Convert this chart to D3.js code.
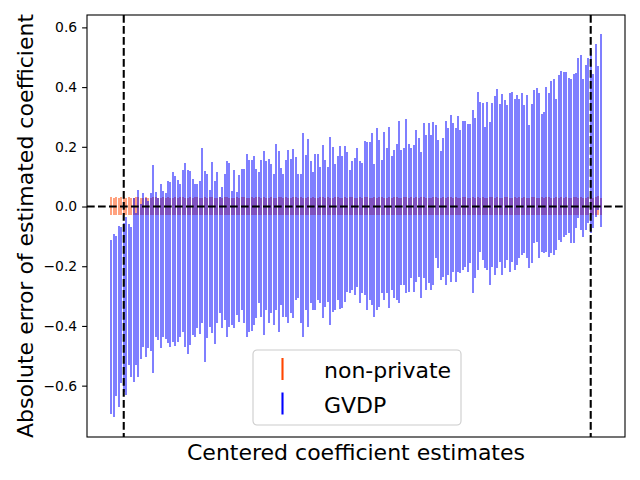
<!DOCTYPE html>
<html>
<head>
<meta charset="utf-8">
<script src="https://cdn.jsdelivr.net/npm/d3@7"></script>
<style>
  body { margin: 0; background: #fff; }
  svg text { font-family: "DejaVu Sans", sans-serif; fill: #000; }
</style>
</head>
<body>
<svg id="chart" width="640" height="480"></svg>
<script>
// GVDP interval ends, one per coefficient (sorted by centered estimate)
var gvdpHi = [
  -0.112,-0.092,-0.100,-0.065,-0.067,-0.055,-0.034,-0.060,-0.067,0.027,
  -0.022,0.055,0.010,0.046,0.028,0.020,0.046,0.139,0.050,0.030,
  0.075,0.053,0.046,0.085,0.083,0.117,0.102,0.089,0.075,0.122,
  0.146,0.122,0.119,0.092,0.075,0.075,0.085,0.196,0.120,0.109,
  0.055,0.150,0.085,0.117,0.031,0.065,0.109,0.152,0.147,0.053,
  0.122,0.050,0.107,0.126,0.126,0.176,0.156,0.156,0.169,0.126,
  0.116,0.156,0.186,0.152,0.159,0.142,0.109,0.209,0.186,0.129,
  0.109,0.156,0.189,0.159,0.193,0.166,0.109,0.109,0.246,0.173,
  0.226,0.152,0.116,0.176,0.176,0.132,0.206,0.156,0.132,0.233,
  0.199,0.142,0.169,0.203,0.169,0.203,0.183,0.122,0.152,0.162,
  0.196,0.152,0.146,0.219,0.216,0.216,0.246,0.142,0.263,0.223,
  0.156,0.250,0.196,0.266,0.169,0.189,0.209,0.286,0.189,0.196,
  0.293,0.209,0.196,0.206,0.256,0.229,0.183,0.280,0.240,0.280,
  0.240,0.283,0.273,0.223,0.186,0.229,0.286,0.263,0.307,0.280,
  0.263,0.303,0.256,0.286,0.286,0.276,0.276,0.323,0.295,0.382,
  0.349,0.346,0.267,0.351,0.282,0.346,0.370,0.394,0.342,0.377,
  0.357,0.340,0.379,0.382,0.360,0.374,0.360,0.379,0.340,0.374,
  0.273,0.343,0.390,0.398,0.379,0.309,0.315,0.400,0.379,0.420,
  0.427,0.360,0.441,0.454,0.449,0.449,0.432,0.427,0.443,0.446,
  0.496,0.508,0.427,0.474,0.496,0.524,0.443,0.544,0.469,0.577
];
var gvdpLo = [
  -0.695,-0.704,-0.635,-0.671,-0.592,-0.620,-0.632,-0.531,-0.570,-0.587,
  -0.531,-0.570,-0.511,-0.470,-0.503,-0.475,-0.483,-0.559,-0.436,-0.447,
  -0.475,-0.436,-0.444,-0.458,-0.470,-0.453,-0.467,-0.453,-0.436,-0.419,
  -0.472,-0.494,-0.464,-0.430,-0.436,-0.408,-0.427,-0.391,-0.520,-0.442,
  -0.403,-0.422,-0.461,-0.391,-0.358,-0.408,-0.380,-0.438,-0.403,-0.397,
  -0.408,-0.363,-0.386,-0.347,-0.391,-0.436,-0.419,-0.416,-0.397,-0.375,
  -0.324,-0.369,-0.430,-0.347,-0.391,-0.356,-0.397,-0.347,-0.419,-0.330,
  -0.369,-0.369,-0.391,-0.358,-0.375,-0.313,-0.308,-0.391,-0.436,-0.347,
  -0.403,-0.324,-0.347,-0.347,-0.313,-0.324,-0.375,-0.335,-0.319,-0.397,
  -0.352,-0.347,-0.313,-0.344,-0.341,-0.319,-0.285,-0.291,-0.280,-0.296,
  -0.269,-0.324,-0.291,-0.296,-0.347,-0.313,-0.330,-0.369,-0.347,-0.335,
  -0.291,-0.313,-0.291,-0.341,-0.280,-0.308,-0.313,-0.324,-0.263,-0.263,
  -0.291,-0.285,-0.241,-0.285,-0.252,-0.235,-0.308,-0.241,-0.280,-0.257,
  -0.280,-0.263,-0.174,-0.207,-0.246,-0.235,-0.263,-0.229,-0.252,-0.218,
  -0.252,-0.218,-0.222,-0.213,-0.202,-0.218,-0.190,-0.291,-0.241,-0.213,
  -0.151,-0.179,-0.207,-0.213,-0.263,-0.202,-0.229,-0.207,-0.185,-0.229,
  -0.207,-0.179,-0.218,-0.185,-0.213,-0.196,-0.174,-0.162,-0.157,-0.174,
  -0.207,-0.190,-0.123,-0.118,-0.174,-0.151,-0.157,-0.151,-0.168,-0.157,
  -0.162,-0.146,-0.112,-0.118,-0.101,-0.095,-0.090,-0.123,-0.123,-0.073,
  -0.040,-0.079,-0.101,-0.079,-0.056,-0.090,-0.073,-0.034,-0.012,-0.068
];
// non-private interval ends
var npHi = [
  0.031,0.030,0.032,0.029,0.031,0.032,0.030,0.031,0.029,0.030,
  0.032,0.031,0.029,0.030,0.031,0.028,0.030,0.032,0.031,0.030,
  0.029,0.031,0.030,0.032,0.030,0.029,0.031,0.030,0.031,0.032,
  0.030,0.029,0.031,0.030,0.032,0.031,0.030,0.029,0.031,0.030,
  0.031,0.032,0.030,0.029,0.031,0.030,0.031,0.032,0.030,0.029,
  0.030,0.031,0.029,0.032,0.031,0.030,0.029,0.031,0.030,0.032,
  0.031,0.030,0.032,0.029,0.030,0.031,0.030,0.029,0.031,0.032,
  0.030,0.031,0.029,0.030,0.032,0.031,0.030,0.031,0.029,0.030,
  0.032,0.030,0.031,0.029,0.030,0.031,0.032,0.030,0.031,0.029,
  0.030,0.032,0.031,0.030,0.029,0.031,0.030,0.032,0.031,0.030,
  0.029,0.031,0.030,0.031,0.032,0.030,0.029,0.031,0.030,0.032,
  0.031,0.029,0.030,0.031,0.030,0.032,0.031,0.029,0.030,0.031,
  0.032,0.030,0.031,0.029,0.031,0.030,0.032,0.031,0.030,0.029,
  0.030,0.031,0.032,0.030,0.029,0.031,0.030,0.031,0.032,0.030,
  0.031,0.029,0.030,0.032,0.031,0.030,0.029,0.031,0.030,0.032,
  0.030,0.031,0.029,0.030,0.032,0.031,0.030,0.031,0.029,0.030,
  0.032,0.031,0.030,0.029,0.031,0.030,0.032,0.030,0.031,0.029,
  0.030,0.032,0.031,0.030,0.029,0.031,0.030,0.032,0.031,0.030,
  0.029,0.031,0.030,0.032,0.030,0.031,0.029,0.030,0.031,0.032,
  0.030,0.031,0.029,0.030,0.031,0.032,0.030,0.031,0.034,0.030
];
var npLo = [
  -0.028,-0.029,-0.027,-0.028,-0.030,-0.028,-0.029,-0.027,-0.028,-0.029,
  -0.027,-0.028,-0.029,-0.028,-0.027,-0.030,-0.028,-0.029,-0.028,-0.027,
  -0.029,-0.028,-0.027,-0.028,-0.029,-0.030,-0.028,-0.027,-0.029,-0.028,
  -0.028,-0.029,-0.028,-0.027,-0.028,-0.029,-0.030,-0.028,-0.027,-0.029,
  -0.027,-0.028,-0.029,-0.028,-0.030,-0.028,-0.027,-0.029,-0.028,-0.028,
  -0.029,-0.027,-0.028,-0.029,-0.028,-0.027,-0.029,-0.028,-0.030,-0.028,
  -0.028,-0.029,-0.027,-0.028,-0.029,-0.028,-0.027,-0.030,-0.028,-0.029,
  -0.027,-0.028,-0.029,-0.030,-0.028,-0.027,-0.029,-0.028,-0.028,-0.029,
  -0.028,-0.027,-0.029,-0.028,-0.030,-0.028,-0.027,-0.029,-0.028,-0.027,
  -0.029,-0.028,-0.027,-0.029,-0.028,-0.030,-0.028,-0.027,-0.029,-0.028,
  -0.028,-0.029,-0.028,-0.027,-0.029,-0.028,-0.030,-0.028,-0.027,-0.029,
  -0.027,-0.028,-0.030,-0.028,-0.029,-0.027,-0.028,-0.029,-0.028,-0.027,
  -0.029,-0.028,-0.027,-0.030,-0.028,-0.029,-0.027,-0.028,-0.029,-0.028,
  -0.028,-0.027,-0.029,-0.028,-0.030,-0.028,-0.029,-0.027,-0.028,-0.029,
  -0.027,-0.029,-0.028,-0.027,-0.028,-0.030,-0.028,-0.029,-0.027,-0.028,
  -0.029,-0.028,-0.027,-0.029,-0.028,-0.027,-0.030,-0.028,-0.029,-0.028,
  -0.028,-0.029,-0.028,-0.027,-0.029,-0.028,-0.027,-0.030,-0.028,-0.029,
  -0.027,-0.028,-0.029,-0.028,-0.027,-0.029,-0.028,-0.030,-0.028,-0.027,
  -0.029,-0.028,-0.027,-0.028,-0.030,-0.029,-0.028,-0.027,-0.029,-0.028,
  -0.028,-0.029,-0.027,-0.028,-0.029,-0.028,-0.030,-0.028,-0.029,-0.028
];
var yTicks = [-0.6, -0.4, -0.2, 0.0, 0.2, 0.4, 0.6];
var cutIndex = [5, 195];          // dashed vertical markers (coefficient index)
var legendLabels = ["non-private", "GVDP"];
var legendColors = ["#ff4500", "#0000ff"];

// LAYOUT
var LEFT = 87, RIGHT = 625, TOP = 15, BOTTOM = 437;

var svg = d3.select("#chart");
var n = gvdpHi.length;

var x = d3.scaleLinear()
    .domain([-0.05 * (n - 1), 1.05 * (n - 1)])
    .range([LEFT, RIGHT]);
var y = d3.scaleLinear()
    .domain([-0.772, 0.6415])
    .range([BOTTOM, TOP]);

var idx = d3.range(n);

// snap bar centres to whole pixels the way the original renderer does
function px(i){ return Math.round(x(i)) }

// non-private error bars
svg.append("g").selectAll("line")
    .data(idx)
    .enter()
    .append("line")
    .attr("x1", px)
    .attr("x2", px)
    .attr("y1", function(i){ return y(npLo[i]) })
    .attr("y2", function(i){ return y(npHi[i]) })
    .style("stroke", "#ff4500")
    .style("stroke-opacity", 0.5)
    .style("stroke-width", 2)
    .style("shape-rendering", "crispEdges");

// GVDP error bars
svg.append("g").selectAll("line")
    .data(idx)
    .enter()
    .append("line")
    .attr("x1", px)
    .attr("x2", px)
    .attr("y1", function(i){ return y(gvdpLo[i]) })
    .attr("y2", function(i){ return y(gvdpHi[i]) })
    .style("stroke", "#0000ff")
    .style("stroke-opacity", 0.5)
    .style("stroke-width", 2)
    .style("shape-rendering", "crispEdges");

// dashed reference lines
svg.append("line")
    .attr("x1", LEFT).attr("x2", RIGHT)
    .attr("y1", y(0)).attr("y2", y(0))
    .style("stroke", "#000")
    .style("stroke-width", 2.08)
    .style("stroke-dasharray", "7.7,3.3");

svg.append("g").selectAll("line")
    .data(cutIndex)
    .enter()
    .append("line")
    .attr("x1", function(d){ return x(d) })
    .attr("x2", function(d){ return x(d) })
    .attr("y1", TOP)
    .attr("y2", BOTTOM)
    .style("stroke", "#000")
    .style("stroke-width", 2.08)
    .style("stroke-dasharray", "7.7,3.3");

// y axis
var yAxis = d3.axisLeft(y)
    .tickValues(yTicks)
    .tickSize(4.9)
    .tickPadding(4.9)
    .tickFormat(d3.format(".1f"));

var gy = svg.append("g")
    .attr("transform", "translate(" + LEFT + ",0)")
    .call(yAxis);
gy.select(".domain").remove();
gy.selectAll(".tick line").style("stroke", "#000").style("stroke-width", 1.1);
gy.selectAll(".tick text")
    .style("font-family", "DejaVu Sans, sans-serif")
    .style("font-size", "13.9px")
    .style("fill", "#000");

// frame
svg.append("rect")
    .attr("x", LEFT).attr("y", TOP)
    .attr("width", RIGHT - LEFT).attr("height", BOTTOM - TOP)
    .style("fill", "none")
    .style("stroke", "#000")
    .style("stroke-width", 1.1);

// axis labels
svg.append("text")
    .attr("x", (LEFT + RIGHT) / 2)
    .attr("y", 460)
    .attr("text-anchor", "middle")
    .style("font-size", "22px")
    .text("Centered coefficient estimates");

svg.append("text")
    .attr("transform", "translate(33," + ((TOP + BOTTOM) / 2) + ") rotate(-90)")
    .attr("text-anchor", "middle")
    .style("font-size", "22px")
    .text("Absolute error of estimated coefficient");

// legend
var lg = svg.append("g").attr("transform", "translate(253,350)");
lg.append("rect")
    .attr("width", 208).attr("height", 75)
    .attr("rx", 4).attr("ry", 4)
    .style("fill", "#fff")
    .style("fill-opacity", 0.8)
    .style("stroke", "#cccccc")
    .style("stroke-width", 1.1);

var item = lg.selectAll(".item")
    .data(legendLabels)
    .enter()
    .append("g")
    .attr("class", "item")
    .attr("transform", function(d, i){ return "translate(0," + (i * 34.5) + ")" });

item.append("line")
    .attr("x1", 29.5).attr("x2", 29.5)
    .attr("y1", 8).attr("y2", 30)
    .style("stroke", function(d, i){ return legendColors[i] })
    .style("stroke-width", 2.1);

item.append("text")
    .attr("x", 71)
    .attr("y", 28)
    .style("font-size", "22px")
    .text(function(d){ return d });
</script>
</body>
</html>
